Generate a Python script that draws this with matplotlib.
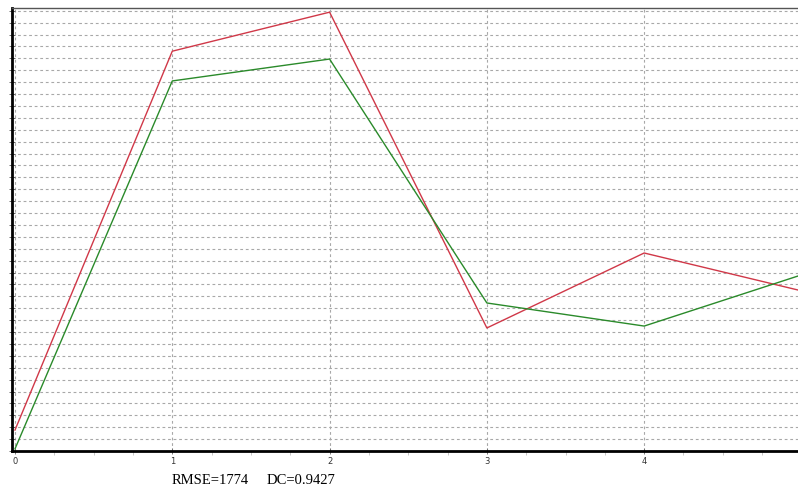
import numpy as np
import matplotlib.pyplot as plt
from matplotlib.ticker import MultipleLocator, NullFormatter

# observed vs simulated series
x = [0, 1, 2, 3, 4, 5]
observed = [880, 16800, 18440, 5170, 8320, 6730]
simulated = [90, 15550, 16470, 6220, 5250, 7400]
rmse = 1774
dc = 0.9427

fig = plt.figure(figsize=(7.98, 4.90), dpi=100)
ax = fig.add_axes([12 / 798, 39 / 490, 1 - 12 / 798, (451 - 8) / 490])

ax.plot(x, observed, color="#d03848", lw=1.0)
ax.plot(x, simulated, color="#2a8a2a", lw=1.0)

ax.set_xlim(-0.019, 4.978)
ax.set_ylim(0, 18615)

ax.xaxis.set_major_locator(MultipleLocator(1))
ax.xaxis.set_minor_locator(MultipleLocator(0.25))
ax.yaxis.set_major_locator(MultipleLocator(500))
ax.yaxis.set_major_formatter(NullFormatter())

ax.grid(True, which="major", color="#a8a8a8", linestyle=(0, (2.5, 2.5)), lw=0.8)

for side in ["left", "bottom"]:
    ax.spines[side].set_linewidth(2)
    ax.spines[side].set_color("black")
ax.spines["top"].set_linewidth(1)
ax.spines["top"].set_color("#555555")
ax.spines["right"].set_visible(False)

ax.tick_params(axis="x", which="major", direction="inout", length=5, width=0.6,
               labelsize=6, pad=2, color="#666666", labelcolor="#333333")
ax.tick_params(axis="x", which="minor", direction="out", length=3, width=0.5,
               color="#b0b0b0")
ax.tick_params(axis="y", which="major", direction="inout", length=5, width=0.6,
               color="#555555")

fig.text(172 / 798, 1 - 480 / 490, f"RMSE={rmse}",
         family="Liberation Serif", fontsize=10.5, va="center", ha="left")
fig.text(267 / 798, 1 - 480 / 490, f"DC={dc}",
         family="Liberation Serif", fontsize=10.5, va="center", ha="left")

fig.savefig("out.png", dpi=100)
